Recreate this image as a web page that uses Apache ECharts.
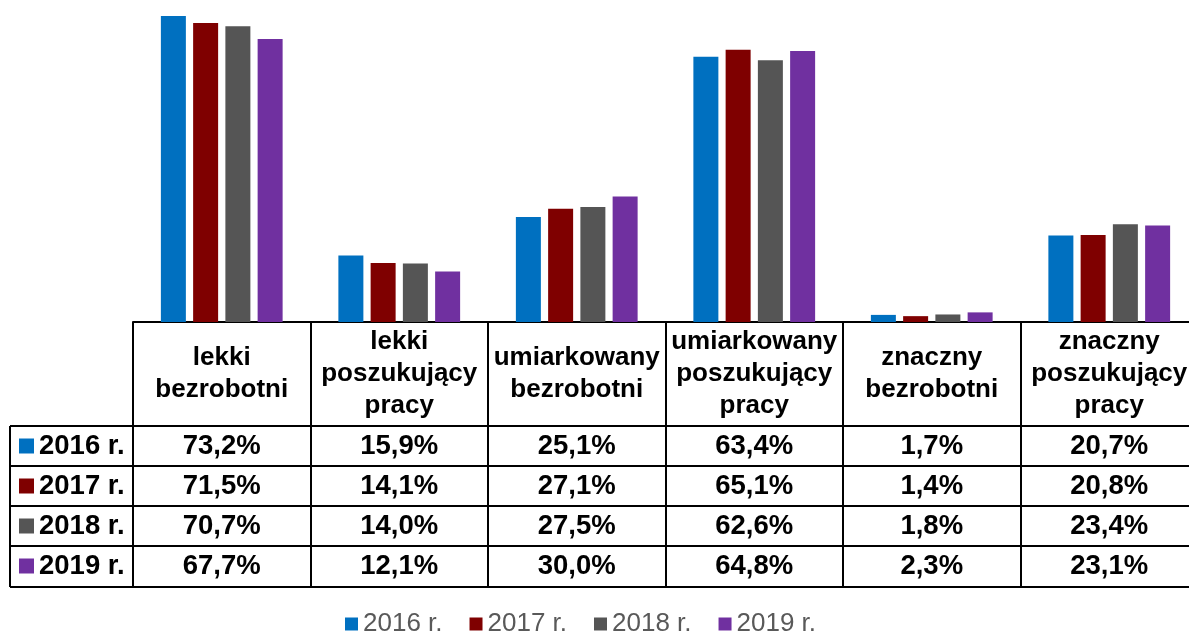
<!DOCTYPE html>
<html>
<head>
<meta charset="utf-8">
<script src="https://cdn.jsdelivr.net/npm/echarts@6/dist/echarts.min.js"></script>
<style>
  html, body { margin: 0; padding: 0; background: #fff; overflow: hidden; }
  #chart { width: 1198px; height: 633px; }
</style>
</head>
<body>
<div id="chart"></div>
<script>
const categories = [
  'lekki\nbezrobotni',
  'lekki\nposzukujący\npracy',
  'umiarkowany\nbezrobotni',
  'umiarkowany\nposzukujący\npracy',
  'znaczny\nbezrobotni',
  'znaczny\nposzukujący\npracy'
]
const years = ['2016 r.', '2017 r.', '2018 r.', '2019 r.']
const values2016 = [73.2, 15.9, 25.1, 63.4, 1.7, 20.7]
const values2017 = [71.5, 14.1, 27.1, 65.1, 1.4, 20.8]
const values2018 = [70.7, 14.0, 27.5, 62.6, 1.8, 23.4]
const values2019 = [67.7, 12.1, 30.0, 64.8, 2.3, 23.1]
const colors = ['#0070C0', '#7F0000', '#555555', '#7030A0']

const allValues = [values2016, values2017, values2018, values2019]
const font = 'Liberation Sans, Arial, sans-serif'
const fmt = v => v.toFixed(1).replace('.', ',') + '%'

// table layout (px); the last column runs past the visible edge
const plotBottom = 322
const headerH = 104
const rowH = 40
const tableLeft = 10
const plotLeft = 133

const lineStyle = { color: '#000', width: 2 }

let xAxes = [
  {
    type: 'category',
    data: categories,
    position: 'bottom',
    offset: 0,
    axisLine: { show: true, lineStyle: lineStyle },
    axisTick: { show: true, length: headerH, lineStyle: lineStyle },
    axisLabel: {
      interval: 0,
      margin: headerH / 2,
      verticalAlign: 'middle',
      fontFamily: font,
      fontWeight: 'bold',
      fontSize: 26,
      lineHeight: 32,
      color: '#000'
    }
  }
]
allValues.forEach((vals, i) => {
  xAxes.push({
    type: 'category',
    data: categories,
    position: 'bottom',
    offset: headerH + rowH * i,
    axisLine: { show: true, lineStyle: lineStyle },
    axisTick: { show: true, length: rowH, lineStyle: lineStyle },
    axisLabel: {
      interval: 0,
      margin: rowH / 2,
      verticalAlign: 'middle',
      fontFamily: font,
      fontWeight: 'bold',
      fontSize: 27.5,
      color: '#000',
      formatter: (value, idx) => fmt(vals[idx])
    }
  })
})
xAxes.push({
  type: 'category',
  data: categories,
  position: 'bottom',
  offset: headerH + rowH * 4 + 1,
  axisLine: { show: true, lineStyle: lineStyle },
  axisTick: { show: false },
  axisLabel: { show: false }
})

// left column of the table: years with colour keys
let graphics = []
for (let i = 0; i <= 4; i++) {
  let y = plotBottom + headerH + rowH * i + (i === 4 ? 1 : 0)
  graphics.push({
    type: 'line',
    shape: { x1: tableLeft, y1: y, x2: plotLeft, y2: y },
    style: { stroke: '#000', lineWidth: 2 }
  })
}
graphics.push({
  type: 'line',
  shape: { x1: tableLeft, y1: plotBottom + headerH, x2: tableLeft, y2: plotBottom + headerH + rowH * 4 + 1 },
  style: { stroke: '#000', lineWidth: 2 }
})
years.forEach((y, i) => {
  let cy = plotBottom + headerH + rowH * i + rowH / 2
  graphics.push({
    type: 'rect',
    shape: { x: 19, y: cy - 7.5, width: 15, height: 15 },
    style: { fill: colors[i] }
  })
  graphics.push({
    type: 'text',
    x: 39,
    y: cy,
    style: {
      text: y,
      font: 'bold 27.5px ' + font,
      fill: '#000',
      verticalAlign: 'middle'
    }
  })
})

let option = {
  animation: false,
  grid: {
    left: plotLeft,
    right: 0,
    top: 0,
    bottom: 633 - plotBottom
  },
  legend: {
    data: years,
    left: 340,
    top: 606,
    icon: 'rect',
    itemWidth: 13,
    itemHeight: 13,
    itemGap: 27,
    textStyle: {
      fontFamily: font,
      fontSize: 26,
      color: '#595959'
    }
  },
  xAxis: xAxes,
  yAxis: {
    type: 'value',
    min: 0,
    max: 77,
    show: false
  },
  graphic: graphics,
  series: years.map((y, i) => ({
    name: y,
    type: 'bar',
    xAxisIndex: 0,
    data: allValues[i],
    barWidth: 25,
    barGap: '29%',
    itemStyle: { color: colors[i] }
  }))
}

let chart = echarts.init(document.getElementById('chart'))
chart.setOption(option)
</script>
</body>
</html>
